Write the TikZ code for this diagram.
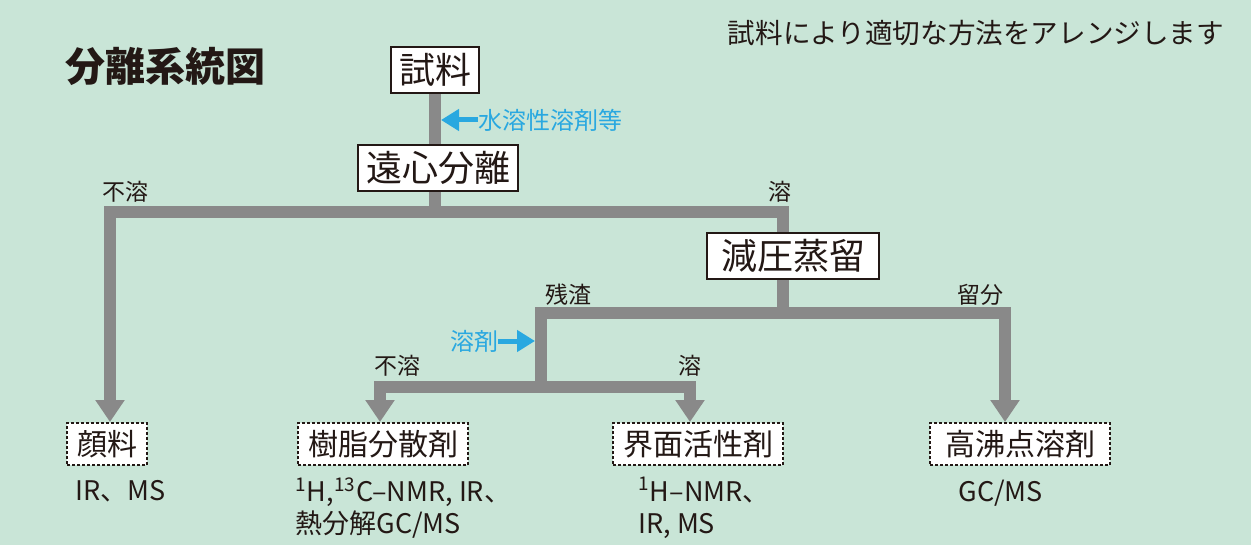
\documentclass[tikz,border=0pt]{standalone}
\usepackage{fontspec}
\setmainfont{Noto Sans CJK JP}
\usetikzlibrary{arrows.meta}
\definecolor{bgmint}{HTML}{C9E5D7}
\definecolor{inkdark}{HTML}{231815}
\definecolor{flowgray}{HTML}{898989}
\definecolor{addblue}{HTML}{29A8E0}
\tikzset{
  mainbox/.style={draw=inkdark,line width=1pt,fill=white,text=inkdark,font=\fontsize{18}{20}\selectfont,
    inner xsep=4pt,minimum height=23pt},
  resultbox/.style={draw=inkdark,line width=1pt,dash pattern=on 1.5pt off 1pt,fill=white,text=inkdark,
    font=\fontsize{15}{17}\selectfont,inner xsep=5pt,minimum height=21pt},
  branchlabel/.style={text=inkdark,font=\fontsize{11.5}{13}\selectfont,inner sep=0pt},
  method/.style={text=inkdark,font=\fontsize{13.5}{16}\selectfont,align=left,inner sep=0pt},
  addnote/.style={text=addblue,font=\fontsize{12}{14}\selectfont,inner sep=0pt},
  flow/.style={draw=flowgray,line width=6pt,line join=miter},
  flowarrow/.style={flow,-{Triangle[width=14pt,length=11pt]}},
  addarrow/.style={draw=addblue,line width=2.5pt,-{Triangle[width=10.5pt,length=9pt]}}
}
\begin{document}
\begin{tikzpicture}[x=0.5pt,y=-0.5pt]
\useasboundingbox[fill=bgmint] (0,0) rectangle (1251,545);
% titles
\node[text=inkdark,font=\fontsize{20}{22}\selectfont\bfseries] (title) at (165,66) {分離系統図};
\node[text=inkdark,font=\fontsize{13.8}{16}\selectfont] (remark) at (976,33) {試料により適切な方法をアレンジします};
% process boxes
\node[mainbox] (sample) at (435,70) {試料};
\node[mainbox] (centri) at (438,168) {遠心分離};
\node[mainbox,inner xsep=7pt] (vacuum) at (793,256) {減圧蒸留};
% results
\node[resultbox] (pigment) at (107,444) {顔料};
\node[resultbox] (resin) at (383,444) {樹脂分散剤};
\node[resultbox] (surf) at (698,444) {界面活性剤};
\node[resultbox,minimum width=90pt] (solvent) at (1020,444) {高沸点溶剤};
% branch points
\coordinate (s1L) at (110,212);
\coordinate (s1R) at (783,212);
\coordinate (s2L) at (541,313);
\coordinate (s2R) at (1005,313);
\coordinate (s3L) at (380,387);
\coordinate (s3R) at (690,387);
% flow lines
\draw[flow] (sample.south) -- (sample.south |- centri.north);
\draw[flow] (sample.south |- centri.south) -- (sample.south |- s1L);
\draw[flowarrow] (s1R |- vacuum.north) -- (s1R) -- (s1L) -- (s1L |- pigment.north);
\draw[flow] (s1R |- vacuum.south) -- (s1R |- s2L);
\draw[flowarrow] (s2L |- s3L) -- (s2L) -- (s2R) -- (s2R |- solvent.north);
\draw[flowarrow] ([xshift=3pt]s2L |- s3L) -- (s3L) -- (s3L |- resin.north);
\draw[flowarrow] ([xshift=-3pt]s2L |- s3R) -- (s3R) -- (s3R |- surf.north);
% added solvents
\node[addnote] (aqueous) at (550,120) {水溶性溶剤等};
\draw[addarrow] (aqueous.west) -- ([xshift=3pt]sample.south |- aqueous.west);
\node[addnote] (solv) at (474,341) {溶剤};
\draw[addarrow] (solv.east) -- ([xshift=-3pt]s2L |- solv.east);
% branch labels
\node[branchlabel] (insol1) at (125,192) {不溶};
\node[branchlabel] (sol1) at (780,192) {溶};
\node[branchlabel] (residue) at (568,295) {残渣};
\node[branchlabel] (distil) at (980,295) {留分};
\node[branchlabel] (insol2) at (397,366) {不溶};
\node[branchlabel] (sol2) at (690,366) {溶};
% analysis methods
\node[method,anchor=north west] (mpig) at (75,480) {IR、MS};
\node[method,anchor=north west] (mres) at (295,477) {\textsuperscript{1}H,\textsuperscript{13}C–NMR, IR、\\熱分解GC/MS};
\node[method,anchor=north west] (msurf) at (638,477) {\textsuperscript{1}H–NMR、\\IR, MS};
\node[method,anchor=north west] (msolv) at (958,480) {GC/MS};
\end{tikzpicture}
\end{document}
